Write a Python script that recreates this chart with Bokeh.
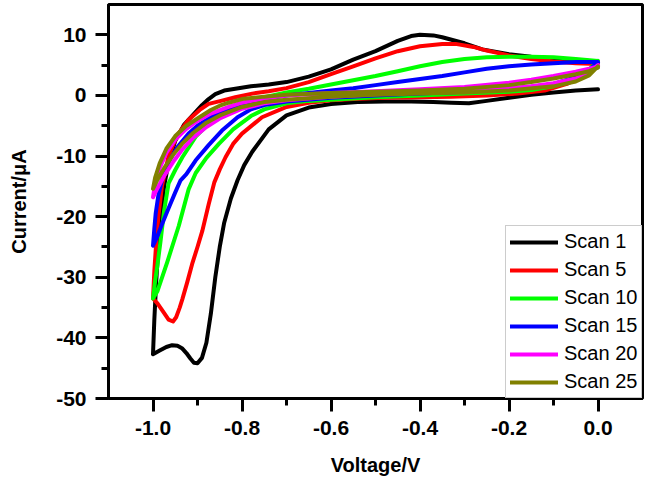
from bokeh.plotting import figure
from bokeh.models import FixedTicker, PrintfTickFormatter
from bokeh.embed import file_html
from bokeh.resources import INLINE

# Cyclic voltammograms: each scan = cathodic sweep (0 V -> -1.0 V) then anodic sweep back to 0 V
scan_labels = ["Scan 1", "Scan 5", "Scan 10", "Scan 15", "Scan 20", "Scan 25"]
scan_colors = ["#000000", "#FF0000", "#00FF00", "#0000FF", "#FF00FF", "#808000"]

# Scan 1
s1_cath_v = [0.0, -0.05, -0.1, -0.15, -0.2, -0.25, -0.29, -0.33, -0.37, -0.42, -0.48, -0.54, -0.6,
             -0.65, -0.7, -0.74, -0.777, -0.795, -0.81, -0.825, -0.84, -0.85, -0.86, -0.87, -0.88,
             -0.89, -0.9, -0.908, -0.916, -0.925, -0.935, -0.945, -0.957, -0.97, -0.985, -1.0]
s1_cath_i = [1.0, 0.8, 0.5, 0.1, -0.4, -0.9, -1.3, -1.2, -1.1, -1.0, -1.0, -1.1, -1.4,
             -2.0, -3.3, -5.6, -9.3, -11.5, -14.0, -17.0, -21.0, -25.0, -30.0, -36.0, -40.8,
             -43.3, -44.2, -44.1, -43.4, -42.5, -41.7, -41.3, -41.2, -41.5, -42.1, -42.7]
s1_anod_v = [-1.0, -0.997, -0.993, -0.988, -0.982, -0.975, -0.965, -0.95, -0.93, -0.91, -0.89,
             -0.875, -0.86, -0.84, -0.815, -0.78, -0.74, -0.7, -0.65, -0.6, -0.55, -0.5, -0.45,
             -0.42, -0.4, -0.37, -0.35, -0.3, -0.26, -0.2, -0.15, -0.1, -0.05, 0.0]
s1_anod_i = [-42.7, -37.0, -31.0, -25.0, -19.5, -15.0, -11.0, -7.5, -4.8, -3.2, -1.6,
             -0.6, 0.2, 0.8, 1.1, 1.5, 1.8, 2.2, 3.1, 4.3, 5.9, 7.3, 9.0,
             9.8, 10.0, 9.9, 9.6, 8.6, 7.6, 6.8, 6.4, 6.1, 5.8, 5.6]

# Scan 5
s5_cath_v = [0.0, -0.015, -0.035, -0.07, -0.12, -0.18, -0.25, -0.33, -0.4, -0.48, -0.55, -0.6,
             -0.65, -0.7, -0.755, -0.8, -0.82, -0.837, -0.85, -0.862, -0.875, -0.889, -0.9,
             -0.912, -0.923, -0.934, -0.94, -0.948, -0.955, -0.965, -0.978, -0.99, -1.0]
s5_cath_i = [5.2, 4.3, 3.2, 1.9, 0.8, 0.3, 0.0, -0.2, -0.3, -0.4, -0.6, -0.8,
             -1.2, -1.9, -3.6, -6.3, -8.0, -10.2, -12.2, -14.3, -18.0, -22.3, -25.0,
             -27.8, -30.8, -33.6, -35.0, -36.6, -37.3, -37.0, -35.6, -34.3, -33.5]
s5_anod_v = [-1.0, -0.997, -0.993, -0.988, -0.98, -0.965, -0.945, -0.92, -0.895, -0.875, -0.845,
             -0.815, -0.777, -0.74, -0.7, -0.65, -0.6, -0.55, -0.5, -0.45, -0.4, -0.35, -0.32,
             -0.28, -0.25, -0.2, -0.15, -0.1, -0.05, 0.0]
s5_anod_i = [-33.5, -29.0, -24.5, -20.0, -15.0, -10.0, -6.5, -4.0, -2.4, -1.4, -0.85,
             -0.3, 0.3, 0.7, 1.2, 2.2, 3.5, 4.8, 6.1, 7.3, 8.1, 8.5, 8.5,
             8.0, 7.4, 6.6, 6.0, 5.6, 5.3, 5.2]

# Scan 10
s10_cath_v = [0.0, -0.02, -0.05, -0.1, -0.15, -0.2, -0.3, -0.4, -0.5, -0.6, -0.65, -0.7, -0.75,
              -0.78, -0.82, -0.852, -0.88, -0.904, -0.92, -0.942, -0.968, -0.99, -1.0]
s10_cath_i = [5.7, 4.3, 2.8, 1.5, 0.9, 0.6, 0.3, 0.0, -0.3, -0.7, -0.9, -1.3, -2.3,
              -3.4, -5.6, -8.0, -10.3, -12.8, -15.5, -21.5, -27.5, -32.3, -33.5]
s10_anod_v = [-1.0, -0.995, -0.99, -0.983, -0.975, -0.965, -0.95, -0.934, -0.904, -0.88, -0.86,
              -0.83, -0.8, -0.78, -0.75, -0.7, -0.65, -0.6, -0.55, -0.5, -0.45, -0.4, -0.35,
              -0.3, -0.25, -0.2, -0.15, -0.1, -0.05, 0.0]
s10_anod_i = [-33.5, -30.5, -28.0, -24.0, -19.0, -14.5, -12.3, -10.2, -6.8, -5.0, -3.9,
              -2.6, -1.6, -0.9, -0.3, 0.5, 1.1, 1.8, 2.5, 3.2, 4.0, 4.8, 5.5,
              6.0, 6.3, 6.4, 6.4, 6.3, 6.0, 5.7]

# Scan 15
s15_cath_v = [0.0, -0.02, -0.05, -0.1, -0.2, -0.3, -0.4, -0.5, -0.6, -0.7, -0.75, -0.78, -0.81,
              -0.845, -0.875, -0.904, -0.925, -0.938, -0.95, -0.965, -0.98, -0.991, -1.0]
s15_cath_i = [5.5, 4.2, 3.0, 1.9, 1.0, 0.6, 0.3, 0.0, -0.4, -1.0, -1.6, -2.3, -3.6,
              -5.8, -8.2, -10.7, -13.0, -14.0, -16.0, -18.6, -21.3, -23.4, -24.8]
s15_anod_v = [-1.0, -0.997, -0.994, -0.988, -0.98, -0.965, -0.945, -0.92, -0.9, -0.87, -0.84,
              -0.8, -0.75, -0.7, -0.65, -0.6, -0.55, -0.5, -0.45, -0.4, -0.35, -0.3, -0.25,
              -0.2, -0.15, -0.1, -0.05, 0.0]
s15_anod_i = [-24.8, -22.0, -19.5, -16.5, -14.0, -11.0, -8.5, -6.3, -5.0, -3.6, -2.5,
              -1.4, -0.6, 0.0, 0.4, 0.8, 1.2, 1.7, 2.2, 2.7, 3.2, 3.8, 4.4,
              4.8, 5.1, 5.3, 5.5, 5.5]

# Scan 20
s20_cath_v = [0.0, -0.02, -0.05, -0.1, -0.15, -0.2, -0.3, -0.4, -0.5, -0.6, -0.7, -0.75, -0.8,
              -0.85, -0.88, -0.91, -0.935, -0.955, -0.975, -0.99, -1.0]
s20_cath_i = [5.0, 3.8, 2.8, 2.0, 1.5, 1.2, 0.8, 0.5, 0.2, -0.2, -0.8, -1.3, -2.2,
              -3.8, -5.2, -7.0, -9.0, -11.0, -13.3, -15.3, -16.8]
s20_anod_v = [-1.0, -0.995, -0.985, -0.97, -0.95, -0.925, -0.9, -0.87, -0.83, -0.8, -0.75,
              -0.7, -0.6, -0.5, -0.4, -0.3, -0.2, -0.15, -0.1, -0.05, -0.02, 0.0]
s20_anod_i = [-16.8, -14.5, -12.0, -9.5, -7.3, -5.5, -4.2, -3.0, -1.9, -1.2, -0.5,
              0.0, 0.4, 0.7, 1.0, 1.4, 2.1, 2.6, 3.2, 3.9, 4.4, 4.8]

# Scan 25
s25_cath_v = [0.0, -0.02, -0.05, -0.1, -0.2, -0.3, -0.4, -0.5, -0.6, -0.7, -0.75, -0.8, -0.85,
              -0.88, -0.91, -0.935, -0.955, -0.975, -0.99, -1.0]
s25_cath_i = [4.8, 3.3, 2.3, 1.5, 0.8, 0.5, 0.3, 0.1, -0.2, -0.7, -1.1, -1.9, -3.3,
              -4.5, -6.2, -8.0, -9.8, -12.0, -13.9, -15.4]
s25_anod_v = [-1.0, -0.995, -0.985, -0.97, -0.95, -0.925, -0.9, -0.87, -0.85, -0.83, -0.8,
              -0.75, -0.7, -0.6, -0.5, -0.4, -0.3, -0.2, -0.15, -0.1, -0.05, -0.02, 0.0]
s25_anod_i = [-15.4, -13.5, -11.2, -8.8, -6.7, -5.0, -3.8, -2.4, -1.7, -1.2, -0.6,
              -0.2, 0.1, 0.4, 0.6, 0.8, 1.1, 1.7, 2.2, 2.8, 3.5, 4.0, 4.6]

x_major = [-1.0, -0.8, -0.6, -0.4, -0.2, 0.0]
x_minor = [-0.9, -0.7, -0.5, -0.3, -0.1]
y_major = [-50, -40, -30, -20, -10, 0, 10]
y_minor = [-45, -35, -25, -15, -5, 5]

scans = [
    (s1_cath_v, s1_cath_i, s1_anod_v, s1_anod_i),
    (s5_cath_v, s5_cath_i, s5_anod_v, s5_anod_i),
    (s10_cath_v, s10_cath_i, s10_anod_v, s10_anod_i),
    (s15_cath_v, s15_cath_i, s15_anod_v, s15_anod_i),
    (s20_cath_v, s20_cath_i, s20_anod_v, s20_anod_i),
    (s25_cath_v, s25_cath_i, s25_anod_v, s25_anod_i),
]

FONT = "Liberation Sans"

p = figure(width=647, height=489, x_range=(-1.1, 0.1), y_range=(-50, 15),
           output_backend="svg", toolbar_location=None,
           min_border_left=108, min_border_right=5, min_border_top=4, min_border_bottom=91)
p.background_fill_color = "white"
p.border_fill_color = "white"
p.grid.visible = False
p.outline_line_color = "black"
p.outline_line_width = 3
p.outline_line_alpha = 1.0

for (cv, ci, av, ai), label, color in zip(scans, scan_labels, scan_colors):
    v = cv + av[1:]
    i = ci + ai[1:]
    p.line(v, i, line_color=color, line_width=4, line_join="round", line_cap="round",
           legend_label=label)

p.xaxis.ticker = FixedTicker(ticks=x_major, minor_ticks=x_minor)
p.yaxis.ticker = FixedTicker(ticks=y_major, minor_ticks=y_minor)
p.xaxis.formatter = PrintfTickFormatter(format="%.1f")
p.yaxis.formatter = PrintfTickFormatter(format="%d")

for ax in (p.xaxis[0], p.yaxis[0]):
    ax.axis_line_width = 3
    ax.axis_line_color = "black"
    ax.major_tick_line_width = 3
    ax.minor_tick_line_width = 3
    ax.major_tick_out = 13
    ax.major_tick_in = 0
    ax.minor_tick_out = 7
    ax.minor_tick_in = 0
    ax.major_label_text_font = FONT
    ax.major_label_text_font_style = "bold"
    ax.major_label_text_font_size = "21px"
    ax.major_label_text_color = "black"
    ax.axis_label_text_font = FONT
    ax.axis_label_text_font_style = "bold"
    ax.axis_label_text_font_size = "20px"
    ax.axis_label_text_color = "black"

p.xaxis.axis_label = "Voltage/V"
p.yaxis.axis_label = "Current/μA"
p.xaxis.major_label_standoff = 9
p.yaxis.major_label_standoff = 9
p.xaxis.axis_label_standoff = 16
p.yaxis.axis_label_standoff = 23

lg = p.legend[0]
lg.location = (397, 0)
lg.margin = 0
lg.padding = 4
lg.spacing = 5
lg.glyph_width = 48
lg.glyph_height = 20
lg.label_height = 20
lg.label_standoff = 6
lg.label_text_font = FONT
lg.label_text_font_size = "20px"
lg.label_text_color = "black"
lg.border_line_color = "#999999"
lg.border_line_width = 1
lg.background_fill_color = "white"
lg.background_fill_alpha = 1.0

open("out.html", "w").write(file_html(p, INLINE))
